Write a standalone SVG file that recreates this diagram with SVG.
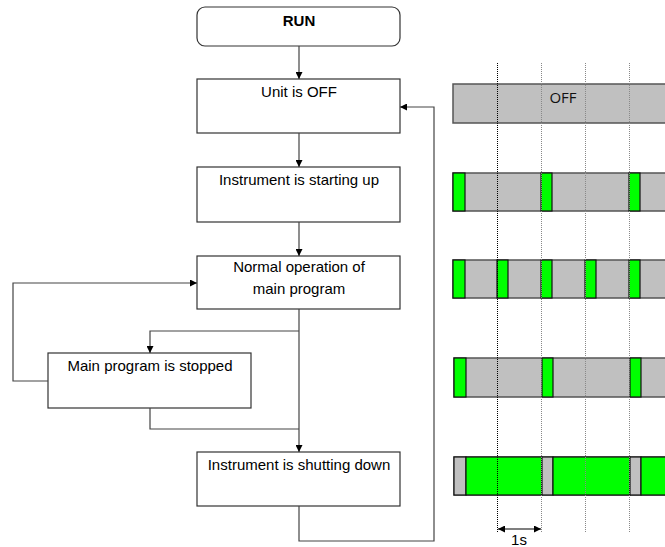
<svg xmlns="http://www.w3.org/2000/svg" width="665" height="547" viewBox="0 0 665 547">
<style>
.box{fill:#fff;stroke:#333;stroke-width:1.2}
.t{font-family:"Liberation Sans",Arial,sans-serif;font-size:15px;fill:#000;text-anchor:middle}
.c{fill:none;stroke:#444;stroke-width:1.2}
.bar{fill:#c0c0c0;stroke:#555;stroke-width:1.5}
.g{fill:#00ff00;stroke:#111;stroke-width:1.2}
.gr{fill:#c0c0c0;stroke:#111;stroke-width:1.2}
.dot{stroke:#888;stroke-width:1;stroke-dasharray:1 1}
</style>
<defs>
<marker id="ah" viewBox="0 0 10 10" refX="10" refY="5" markerWidth="7" markerHeight="7" markerUnits="userSpaceOnUse" orient="auto">
<path d="M0,0 L10,5 L0,10 z" fill="#000"/>
</marker>
<marker id="ahs" viewBox="0 0 10 10" refX="0" refY="5" markerWidth="7" markerHeight="7" markerUnits="userSpaceOnUse" orient="auto">
<path d="M10,0 L0,5 L10,10 z" fill="#000"/>
</marker>
</defs>

<g id="run"><rect class="box" x="197" y="7" width="203" height="39" rx="8"/><text class="t" x="299" y="26" font-weight="bold">RUN</text></g>
<g id="unit-off"><rect class="box" x="197" y="79" width="203" height="54"/><text class="t" x="299" y="97">Unit is OFF</text></g>
<g id="starting"><rect class="box" x="197" y="167" width="203" height="55"/><text class="t" x="299" y="185">Instrument is starting up</text></g>
<g id="normal"><rect class="box" x="197" y="256" width="203" height="53"/><text class="t" x="299" y="272">Normal operation of</text><text class="t" x="299" y="294">main program</text></g>
<g id="stopped"><rect class="box" x="48" y="353" width="203" height="55"/><text class="t" x="150" y="371">Main program is stopped</text></g>
<g id="shutdown"><rect class="box" x="197" y="452" width="203" height="54"/><text class="t" x="299" y="470">Instrument is shutting down</text></g>

<g id="connectors">
<path class="c" d="M299,46 V79" marker-end="url(#ah)"/>
<path class="c" d="M299,133 V167" marker-end="url(#ah)"/>
<path class="c" d="M299,222 V256" marker-end="url(#ah)"/>
<path class="c" d="M299,309 V452" marker-end="url(#ah)"/>
<path class="c" d="M299,331 H150 V353" marker-end="url(#ah)"/>
<path class="c" d="M150,408 V429 H299"/>
<path class="c" d="M48,381 H13 V283 H197" marker-end="url(#ah)"/>
<path class="c" d="M299,506 V541 H434 V107 H400" marker-end="url(#ah)"/>
</g>

<g id="timing">
<rect class="bar" x="453" y="84" width="215" height="39"/>
<text x="563" y="103" font-family="'Open Sans',sans-serif" font-size="15" text-anchor="middle" fill="#111">OFF</text>

<rect class="bar" x="453" y="173" width="215" height="38"/>
<rect class="g" x="453" y="173" width="12" height="38"/>
<rect class="g" x="541" y="173" width="11" height="38"/>
<rect class="g" x="629" y="173" width="11" height="38"/>

<rect class="bar" x="453" y="260" width="215" height="38"/>
<rect class="g" x="453" y="260" width="12" height="38"/>
<rect class="g" x="497" y="260" width="11" height="38"/>
<rect class="g" x="541" y="260" width="11" height="38"/>
<rect class="g" x="585" y="260" width="11" height="38"/>
<rect class="g" x="629" y="260" width="11" height="38"/>

<rect class="bar" x="454" y="358" width="214" height="39"/>
<rect class="g" x="454" y="358" width="12" height="39"/>
<rect class="g" x="542" y="358" width="11" height="39"/>
<rect class="g" x="630" y="358" width="11" height="39"/>

<rect class="bar" x="454" y="457" width="214" height="38"/>
<rect class="gr" x="454" y="457" width="12" height="38"/>
<rect class="g" x="466" y="457" width="76" height="38"/>
<rect class="gr" x="542" y="457" width="11" height="38"/>
<rect class="g" x="553" y="457" width="77" height="38"/>
<rect class="gr" x="630" y="457" width="11" height="38"/>
<rect class="g" x="641" y="457" width="27" height="38"/>

<line class="dot" x1="497.5" y1="63" x2="497.5" y2="533" stroke="#000" style="stroke:#000"/>
<line class="dot" x1="541.5" y1="63" x2="541.5" y2="533"/>
<line class="dot" x1="585.5" y1="63" x2="585.5" y2="533"/>
<line class="dot" x1="629.5" y1="63" x2="629.5" y2="533"/>

<line x1="498" y1="529" x2="541" y2="529" stroke="#000" stroke-width="1.2" marker-start="url(#ahs)" marker-end="url(#ah)"/>
<text class="t" x="519" y="545">1s</text>
</g>
</svg>
